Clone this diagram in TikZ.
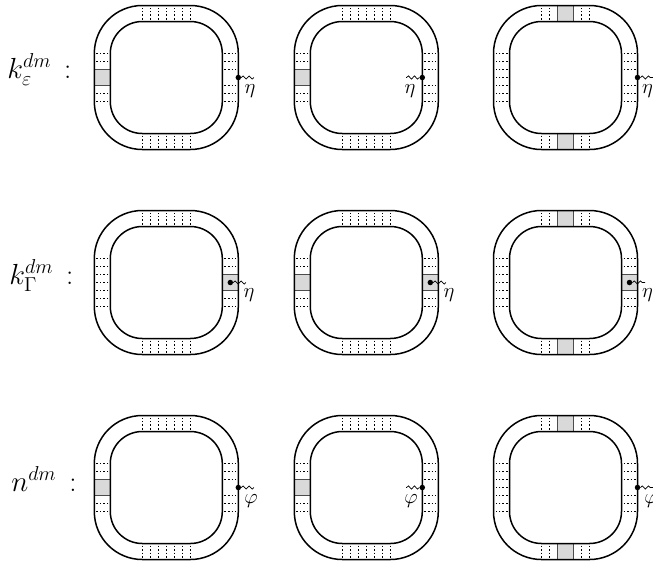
\documentclass[tikz,border=0pt]{standalone}
\usepackage{amsmath}
\usepackage{amssymb}
\usetikzlibrary{
    decorations.pathmorphing,
    positioning
}
\definecolor{boxgray}{gray}{0.85}
\tikzstyle{wall} = [
    line width=1.5pt,
    rounded corners
]
\tikzstyle{rungs} = [
    line width=1.6pt,
    dash pattern=on 1.6pt off 2pt
]
\tikzstyle{slab} = [
    fill=boxgray,
    draw=black!70,
    line width=0.8pt
]
\tikzstyle{vertexdot} = [
    circle,
    fill=black,
    inner sep=0pt,
    minimum size=5.5pt
]
\tikzstyle{wiggle} = [
    line width=0.7pt,
    decorate,
    decoration={snake, amplitude=1.6pt, segment length=6pt}
]
\tikzstyle{rowlabel} = [
    anchor=base west,
    inner sep=0pt,
    scale=1.4,
    transform shape,
    font=\huge
]
\tikzstyle{leglabel} = [
    inner sep=0pt,
    font=\huge
]
% one side of the ring, drawn at the right and turned by #1
\newcommand{\sidefull}[1]{
    \begin{scope}[rotate=#1]
        \foreach \off in {-24,-16,-8,0,8,16,24}
            \draw[rungs] (58,\off) -- (70,\off);
    \end{scope}
}
\newcommand{\sidegap}[1]{
    \begin{scope}[rotate=#1]
        \foreach \off in {-24,-16,-8,8,16,24}
            \draw[rungs] (58,\off) -- (70,\off);
    \end{scope}
}
\newcommand{\sidebox}[1]{
    \begin{scope}[rotate=#1]
        \foreach \off in {-24,-16,16,24}
            \draw[rungs] (58,\off) -- (70,\off);
        \fill[boxgray] (56,-8) rectangle (72,8);
        \draw[slab] (56,-8) -- (72,-8) (56,8) -- (72,8);
    \end{scope}
}
% #1,#2 centre, #3 top and bottom, #4 left, #5 right
\newcommand{\ringloop}[5]{
    \begin{scope}[shift={(#1,#2)}]
        #3{90}
        #3{270}
        #4{180}
        #5{0}
        \draw[wall, rounded corners=48pt] (-72,-72) rectangle (72,72);
        \draw[wall, rounded corners=32pt] (-56,-56) rectangle (56,56);
    \end{scope}
}
% #1 name, #2,#3 dot, #4 wiggle end, #5,#6 label, #7 text
\newcommand{\extleg}[7]{
    \node[vertexdot] (#1) at (#2,#3) {};
    \coordinate (#1end) at (#4,#3);
    \draw[wiggle] (#1) -- (#1end);
    \node[leglabel] (#1lab) at (#5,#6) {$#7$};
}
\begin{document}
\begin{tikzpicture}[x=1pt, y=-1pt]
    \useasboundingbox (0,0) rectangle (653,566);

    % k epsilon row
    \node[rowlabel] (keps) at (7,78) {$k_{\varepsilon}^{dm}\,:$};
    \ringloop{166.3}{77.5}{\sidefull}{\sidebox}{\sidegap}
    \ringloop{366.3}{77.5}{\sidefull}{\sidebox}{\sidegap}
    \ringloop{565.5}{77.5}{\sidebox}{\sidefull}{\sidegap}
    \extleg{ea}{238.3}{77.5}{254}{250}{91}{\eta}
    \extleg{eb}{422.3}{77.5}{406}{410}{91}{\eta}
    \extleg{ec}{637.5}{77.5}{653}{647.5}{91}{\eta}

    % k gamma row
    \node[rowlabel] (kgam) at (9,284) {$k_{\Gamma}^{dm}\,:$};
    \ringloop{166.3}{282.5}{\sidefull}{\sidefull}{\sidebox}
    \ringloop{366.3}{282.5}{\sidefull}{\sidebox}{\sidebox}
    \ringloop{565.5}{282.5}{\sidebox}{\sidefull}{\sidebox}
    \extleg{ga}{230.3}{282.5}{246}{249}{295}{\eta}
    \extleg{gb}{430.3}{282.5}{446}{449}{295}{\eta}
    \extleg{gc}{629.5}{282.5}{645}{647.5}{295}{\eta}

    % n row
    \node[rowlabel] (nrow) at (11,491) {$n^{dm}\,:$};
    \ringloop{166.3}{487.5}{\sidefull}{\sidebox}{\sidegap}
    \ringloop{366.3}{487.5}{\sidefull}{\sidebox}{\sidegap}
    \ringloop{565.5}{487.5}{\sidebox}{\sidefull}{\sidegap}
    \extleg{na}{238.3}{487.5}{254}{251}{501.5}{\varphi}
    \extleg{nb}{422.3}{487.5}{406}{411}{501.5}{\varphi}
    \extleg{nc}{637.5}{487.5}{653}{651}{501.5}{\varphi}
\end{tikzpicture}
\end{document}
